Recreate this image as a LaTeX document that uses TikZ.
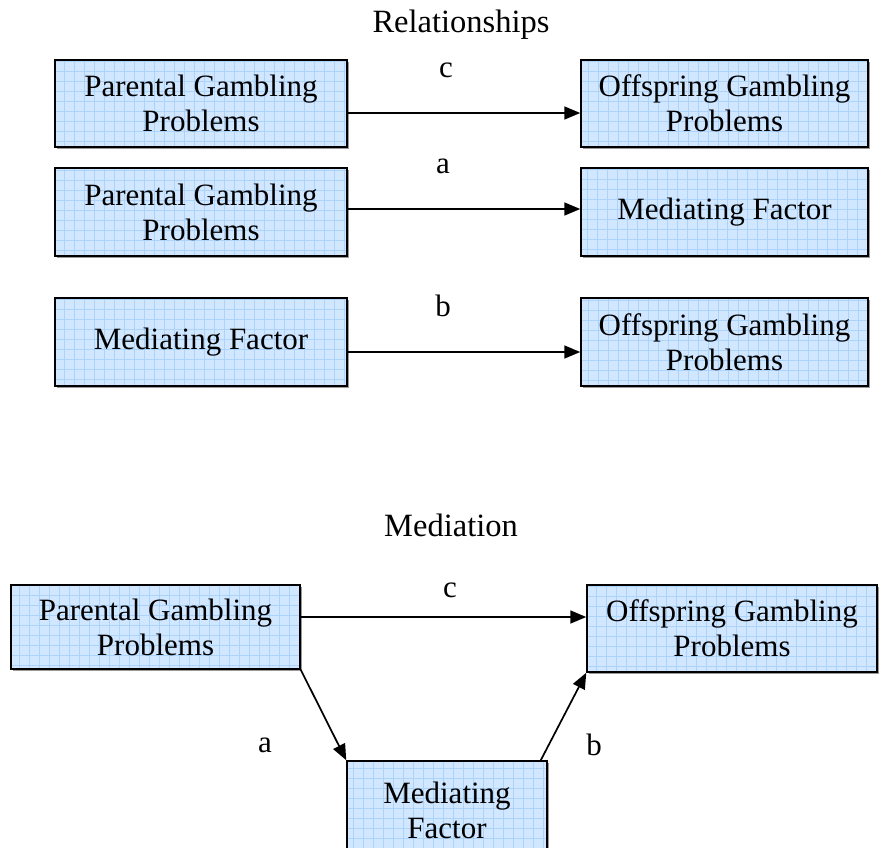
\documentclass[tikz,border=0pt]{standalone}
\usepackage{fontspec}
\setmainfont{Liberation Serif}
\usetikzlibrary{arrows.meta}
\definecolor{boxfill}{RGB}{208,231,255}
\definecolor{gridline}{RGB}{172,212,250}
\begin{document}
\begin{tikzpicture}[x=1pt,y=-1pt,
  every node/.style={font=\fontsize{31}{35}\selectfont},
  title/.style={font=\fontsize{32.5}{36}\selectfont},
  box/.style={draw=black,line width=1.5pt,fill=boxfill,align=center,inner sep=0pt,
    preaction={fill=black!40,transform canvas={xshift=1.5pt,yshift=-1.5pt}},
    path picture={\draw[gridline,line width=0.6pt,step=10pt]
      (path picture bounding box.south west) grid (path picture bounding box.north east);}},
  link/.style={line width=1.7pt,-{Triangle[length=16pt,width=13pt]}}]
\useasboundingbox (0,0) rectangle (880,847);
% Relationships: the three pairwise paths
\node[title] (t1) at (461,25) {Relationships};
\node[box,minimum width=292pt,minimum height=87pt] (l1) at (201,103.5) {Parental Gambling\\Problems};
\node[box,minimum width=287pt,minimum height=87pt] (r1) at (724.5,103.5) {Offspring Gambling\\Problems};
\node[box,minimum width=292pt,minimum height=88pt] (l2) at (201,212) {Parental Gambling\\Problems};
\node[box,minimum width=287pt,minimum height=88pt] (r2) at (724.5,212) {Mediating Factor};
\node[box,minimum width=292pt,minimum height=88pt] (l3) at (201,342) {Mediating Factor};
\node[box,minimum width=287pt,minimum height=88pt] (r3) at (724.5,342) {Offspring Gambling\\Problems};
\draw[link] (l1.east |- 0,113) -- (r1.west |- 0,113);
\draw[link] (l2.east |- 0,209) -- (r2.west |- 0,209);
\draw[link] (l3.east |- 0,352) -- (r3.west |- 0,352);
\node (c1) at (446,70) {c};
\node (a1) at (443,166) {a};
\node (b1) at (443,306) {b};
% Mediation model
\node[title] (t2) at (451,525) {Mediation};
\node[box,minimum width=289pt,minimum height=84pt] (pl) at (155.5,627) {Parental Gambling\\Problems};
\node[box,minimum width=290pt,minimum height=87pt] (po) at (732,628.5) {Offspring Gambling\\Problems};
\node[box,minimum width=200pt,minimum height=98pt] (pm) at (447,810) {Mediating\\Factor};
\draw[link] (pl.east |- 0,617) -- (po.west |- 0,617);
\draw[link] (pl.south east) -- (pm.north west);
\draw[link] ([xshift=-7pt]pm.north east) -- (po.south west);
\node (c2) at (450,590) {c};
\node (a2) at (265,745) {a};
\node (b2) at (594,745) {b};
\end{tikzpicture}
\end{document}
